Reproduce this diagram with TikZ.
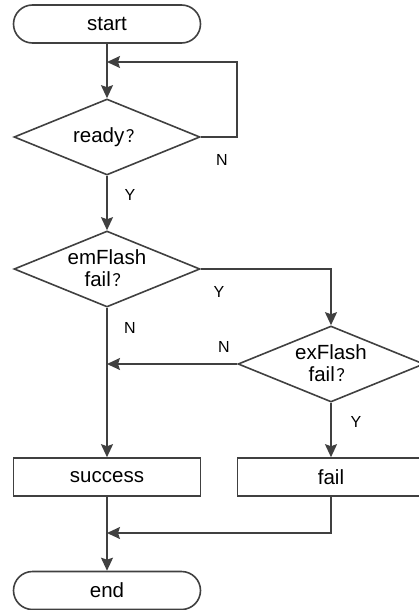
\documentclass[tikz,border=0pt]{standalone}
\usepackage{fontspec}
\setmainfont{Liberation Sans}
\newfontfamily\cjk{Noto Sans CJK SC}
\usetikzlibrary{shapes.geometric,shapes.misc,arrows.meta}
\definecolor{ln}{HTML}{404040}
\tikzset{
  term/.style={rounded rectangle, draw=ln, line width=1.6pt, minimum width=187pt, minimum height=38pt, inner sep=0pt, font=\fontsize{20.5}{22}\selectfont},
  proc/.style={rectangle, draw=ln, line width=1.6pt, minimum width=187pt, minimum height=38pt, inner sep=0pt, font=\fontsize{20.5}{22}\selectfont},
  dia/.style={diamond, draw=ln, line width=1.6pt, minimum width=186pt, minimum height=76pt, inner sep=0pt},
  dtext/.style={align=center, font=\fontsize{20.5}{22}\selectfont, inner sep=0pt},
  lab/.style={font=\fontsize{16}{18}\selectfont, inner sep=0pt},
  conn/.style={draw=ln, line width=1.6pt, -{Stealth[length=13pt,width=12pt,inset=2pt]}},
  plain/.style={draw=ln, line width=1.6pt}
}
\newcommand{\qm}{\hspace{1.5pt}{\cjk\fontsize{17}{17}\selectfont ？}}
\begin{document}
\begin{tikzpicture}[x=1pt,y=-1pt]
\useasboundingbox (0,0) rectangle (418,610);
\node[term] (start) at (107,24) {start};
\node[dia] (ready) at (107,137) {};
\node[dtext] (readyt) at (108,137) {ready\qm};
\node[dia] (em) at (107,269) {};
\node[dtext] (emt) at (107,268) {emFlash\\fail\qm};
\node[dia] (ex) at (331,364) {};
\node[dtext] (ext) at (331,363) {exFlash\\fail\qm};
\node[proc] (succ) at (107,477) {success};
\node[proc] (fail) at (331,477) {fail};
\node[term] (end) at (107,590.5) {end};
\coordinate (loopin) at (107,62);
\coordinate (emyes) at (331,269);
\coordinate (exno) at (107,364);
\coordinate (merge) at (107,533);

\draw[conn] (start.south) -- (ready.north);
\draw[conn] (ready.east) -- (237,137) |- (loopin);
\draw[conn] (ready.south) -- (em.north);
\draw[conn] (em.east) -- (emyes) -- (ex.north);
\draw[conn] (ex.west) -- (exno);
\draw[conn] (em.south) -- (succ.north);
\draw[conn] (ex.south) -- (fail.north);
\draw[conn] (fail.south) |- (merge);
\draw[conn] (succ.south) -- (end.north);

\node[lab] (n1) at (222,160) {N};
\node[lab] (y1) at (130,195) {Y};
\node[lab] (y2) at (219,292) {Y};
\node[lab] (n2) at (130,328) {N};
\node[lab] (n3) at (224,347) {N};
\node[lab] (y3) at (356,422) {Y};
\end{tikzpicture}
\end{document}
